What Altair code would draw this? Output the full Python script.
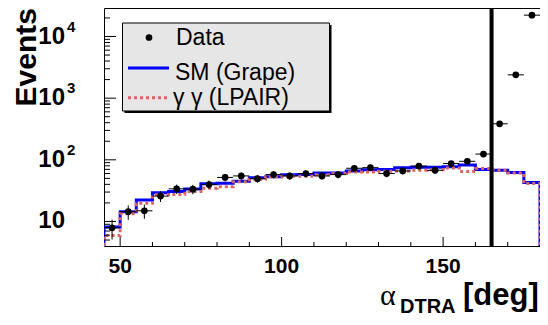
import altair as alt
import pandas as pd

# ---- data ----
bin_lo = [45, 50, 55, 60, 65, 70, 75, 80, 85, 90, 95, 100, 105, 110, 115,
          120, 125, 130, 135, 140, 145, 150, 155, 160, 165, 170, 175]
bin_hi = [b + 5 for b in bin_lo]
bin_mid = [b + 2.5 for b in bin_lo]

data_counts = [7.9, 14.4, 14.9, 25.8, 33.8, 33.4, 39.8, 51.8, 54.8, 49.5, 57.6,
               54.8, 59.9, 54.8, 57.6, 72.9, 74.6, 59.9, 66.0, 79.2, 67.6, 86.9,
               94.6, 124, 384, 2390, 22200]
sm_grape = [8.1, 14.4, 22.2, 29.2, 30.5, 33.5, 41.0, 41.5, 45.0, 51.0, 53.0,
            57.5, 58.0, 61.0, 61.0, 66.0, 69.0, 69.5, 74.5, 76.0, 76.0, 77.0,
            82.4, 69.5, 67.6, 62.1, 42.9]
lpair = [5.9, 13.4, 19.7, 27.0, 27.5, 30.5, 34.5, 36.5, 44.0, 48.5, 53.0,
         54.0, 54.0, 57.5, 60.0, 63.5, 63.5, 65.0, 66.0, 67.5, 69.0, 74.0,
         64.4, 72.0, 67.6, 61.0, 41.3]

cut_value = 165
x_domain = [45, 180]
y_domain = [4, 29000]
y_tick_major = [10, 100, 1000, 10000]
y_tick_minor = [5, 6, 7, 8, 9, 20, 30, 40, 50, 60, 70, 80, 90,
                200, 300, 400, 500, 600, 700, 800, 900,
                2000, 3000, 4000, 5000, 6000, 7000, 8000, 9000, 20000]
y_base_labels = ["10", "10", "10", "10"]
y_exp_values = [10000, 1000, 100]
y_exp_labels = ["4", "3", "2"]
x_tick_major = [50, 100, 150]
x_tick_labels = ["50", "100", "150"]
x_tick_minor = [60, 70, 80, 90, 110, 120, 130, 140, 160, 170]
legend_labels = ["Data", "SM (Grape)", "γ γ (LPAIR)"]
y_title = "Events"

BLUE = "#0000ff"
RED = "#d86464"
W, H = 436, 238
FONT = "Liberation Sans"

xs = alt.Scale(domain=x_domain, nice=False, zero=False)
ys = alt.Scale(type="log", domain=y_domain, nice=False)


def X(field):
    return alt.X(field, scale=xs, axis=None)


def Y(field):
    return alt.Y(field, scale=ys, axis=None)


def step_frame(values):
    xv = [x_domain[0]] + bin_lo + [x_domain[1], x_domain[1]]
    yv = [y_domain[0]] + values + [values[-1], y_domain[0]]
    return pd.DataFrame({"x": xv, "y": yv, "i": list(range(len(xv)))})


blue_line = alt.Chart(step_frame(sm_grape)).mark_line(
    interpolate="step-after", color=BLUE, strokeWidth=3, clip=True
).encode(x=X("x:Q"), y=Y("y:Q"), order="i:Q")

red_line = alt.Chart(step_frame(lpair)).mark_line(
    interpolate="step-after", color=RED, strokeWidth=3, strokeDash=[3, 3],
    strokeCap="butt", clip=True
).encode(x=X("x:Q"), y=Y("y:Q"), order="i:Q")

cut_line = alt.Chart(pd.DataFrame({"v": [cut_value]})).mark_rule(
    color="black", strokeWidth=4
).encode(x=X("v:Q"))

pts = pd.DataFrame({"lo": bin_lo, "hi": bin_hi, "mid": bin_mid, "n": data_counts})

h_err = alt.Chart(pts).mark_rule(color="black", strokeWidth=1).encode(
    x=X("lo:Q"), x2="hi:Q", y=Y("n:Q"))
v_err = alt.Chart(pts).transform_calculate(
    elo="datum.n - sqrt(datum.n)", ehi="datum.n + sqrt(datum.n)"
).mark_rule(color="black", strokeWidth=1).encode(
    x=X("mid:Q"), y=Y("elo:Q"), y2="ehi:Q")
points = alt.Chart(pts).mark_circle(size=45, color="black", opacity=1).encode(
    x=X("mid:Q"), y=Y("n:Q"))

# inward ticks
y_major = alt.Chart(pd.DataFrame({"v": y_tick_major})).mark_rule(color="black").encode(
    x=alt.value(0), x2=alt.value(12), y=Y("v:Q"))
y_minor = alt.Chart(pd.DataFrame({"v": y_tick_minor})).mark_rule(color="black").encode(
    x=alt.value(0), x2=alt.value(6), y=Y("v:Q"))
x_major = alt.Chart(pd.DataFrame({"v": x_tick_major})).mark_rule(color="black").encode(
    x=X("v:Q"), y=alt.value(H), y2=alt.value(H - 9))
x_minor = alt.Chart(pd.DataFrame({"v": x_tick_minor})).mark_rule(color="black").encode(
    x=X("v:Q"), y=alt.value(H), y2=alt.value(H - 4))

# tick labels
y_labels = alt.Chart(pd.DataFrame({"v": y_tick_major, "t": y_base_labels})).mark_text(
    align="right", baseline="middle", fontSize=24, fontWeight="bold",
    font=FONT, color="black"
).encode(x=alt.value(-39), y=Y("v:Q"), text="t:N")
exps = alt.Chart(pd.DataFrame({"v": y_exp_values, "t": y_exp_labels})).mark_text(
    align="left", baseline="middle", dy=-10, fontSize=15, fontWeight="bold",
    font=FONT, color="black"
).encode(x=alt.value(-37), y=Y("v:Q"), text="t:N")
x_labels = alt.Chart(pd.DataFrame({"v": x_tick_major, "t": x_tick_labels})).mark_text(
    align="center", baseline="alphabetic", fontSize=21, fontWeight="bold",
    font=FONT, color="black"
).encode(x=X("v:Q"), y=alt.value(H + 27), text="t:N")

one = pd.DataFrame({"a": [0]})

t_events = alt.Chart(one).mark_text(
    align="right", baseline="alphabetic", angle=270, fontSize=30,
    fontWeight="bold", font=FONT, color="black", text=y_title
).encode(x=alt.value(-68), y=alt.value(0))

# legend
leg_shadow = alt.Chart(one).mark_rect(color="black").encode(
    x=alt.value(20.5), x2=alt.value(227.5), y=alt.value(17), y2=alt.value(105))
leg_box = alt.Chart(one).mark_rect(fill="#e6e6e6", stroke="black", strokeWidth=1).encode(
    x=alt.value(18.5), x2=alt.value(225.5), y=alt.value(15), y2=alt.value(103))
leg_dot = alt.Chart(one).mark_circle(size=45, color="black", opacity=1).encode(
    x=alt.value(45), y=alt.value(29.5))
leg_blue = alt.Chart(one).mark_rule(color=BLUE, strokeWidth=3).encode(
    x=alt.value(24), x2=alt.value(65), y=alt.value(60))
leg_red = alt.Chart(one).mark_rule(color=RED, strokeWidth=3, strokeDash=[3, 3],
                                   strokeCap="butt").encode(
    x=alt.value(24), x2=alt.value(65), y=alt.value(89.7))

leg_texts = []
for label, xp, yp in zip(legend_labels, [72, 71, 69], [29.5, 64.5, 89.5]):
    leg_texts.append(
        alt.Chart(one).mark_text(align="left", baseline="middle", fontSize=23,
                                 font=FONT, color="black", text=label)
        .encode(x=alt.value(xp), y=alt.value(yp))
    )

# x title pieces
t_alpha = alt.Chart(one).mark_text(align="left", baseline="alphabetic", fontSize=30,
                                   font="Liberation Serif", color="black", text="α").encode(
    x=alt.value(276), y=alt.value(297))
t_sub = alt.Chart(one).mark_text(align="left", baseline="alphabetic", fontSize=20,
                                 fontWeight="bold", font=FONT, color="black",
                                 text="DTRA").encode(x=alt.value(296), y=alt.value(305))
t_deg = alt.Chart(one).mark_text(align="left", baseline="alphabetic", fontSize=31,
                                 fontWeight="bold", font=FONT, color="black",
                                 text="[deg]").encode(x=alt.value(359), y=alt.value(297))

chart = alt.layer(
    blue_line, red_line, cut_line, h_err, v_err, points,
    y_major, y_minor, x_major, x_minor, y_labels, exps, x_labels, t_events,
    leg_shadow, leg_box, leg_dot, leg_blue, leg_red, *leg_texts,
    t_alpha, t_sub, t_deg,
).properties(
    width=W, height=H,
    autosize=alt.AutoSizeParams(type="none"),
    padding={"left": 96, "top": 0, "right": 0, "bottom": 71},
).configure(font=FONT).configure_view(stroke="black", strokeWidth=1)

chart.save("out.html", embed_options={"renderer": "svg", "actions": False})
